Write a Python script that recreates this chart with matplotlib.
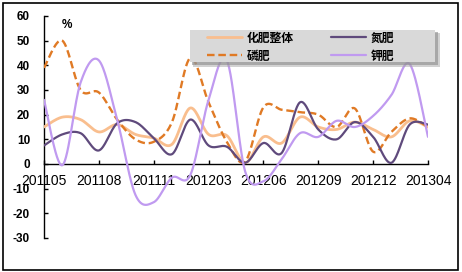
import numpy as np
import matplotlib
matplotlib.use("Agg")
import matplotlib.pyplot as plt
from matplotlib.patches import Rectangle

plt.rcParams['font.family'] = ['Liberation Sans', 'Noto Sans CJK SC', 'DejaVu Sans']

months = ["201105", "201106", "201107", "201108", "201109", "201110", "201111",
          "201112", "201202", "201203", "201204", "201205", "201206", "201207",
          "201208", "201209", "201210", "201211", "201212", "201302", "201303",
          "201304"]

overall = [15, 19, 18, 13, 16, 12, 10.5, 8, 22.7, 12, 11.5, 0.5, 11, 8.5,
           19, 15, 14, 17, 14, 11, 17.5, 15]
phosphate = [39, 50, 30, 29, 18, 10, 9, 17, 43, 25, 9, 1, 23, 22,
             21, 20, 15, 22.5, 5, 13, 18.5, 15]
nitrogen = [7.5, 12, 12.5, 5.5, 16.5, 17, 10.5, 4, 18, 7.5, 7, 0.5, 8.5, 4.5,
            25, 14, 10, 17, 11, 0.5, 16, 16]
potash = [26, -0.5, 33, 42, 18, -12.5, -15.5, -5.5, -4.5, 26, 42, -3, -7, 2,
          12.5, 11, 17.5, 15, 19.5, 28, 40.5, 11]

series_names = ["化肥整体", "磷肥", "氮肥", "钾肥"]
tick_step = 3
yticks = list(range(-30, 61, 10))

W, H = 462, 272


def smooth(y, n=30):
    y = np.asarray(y, dtype=float)
    x = np.arange(len(y), dtype=float)
    xs, ys = [], []
    for i in range(len(y) - 1):
        p0 = (x[i - 1], y[i - 1]) if i > 0 else (x[i], y[i])
        p1 = (x[i], y[i])
        p2 = (x[i + 1], y[i + 1])
        p3 = (x[i + 2], y[i + 2]) if i + 2 < len(y) else (x[i + 1], y[i + 1])
        c1 = (p1[0] + (p2[0] - p0[0]) / 6, p1[1] + (p2[1] - p0[1]) / 6)
        c2 = (p2[0] - (p3[0] - p1[0]) / 6, p2[1] - (p3[1] - p1[1]) / 6)
        t = np.linspace(0, 1, n, endpoint=(i == len(y) - 2))
        b0 = (1 - t) ** 3
        b1 = 3 * (1 - t) ** 2 * t
        b2 = 3 * (1 - t) * t ** 2
        b3 = t ** 3
        xs.append(b0 * p1[0] + b1 * c1[0] + b2 * c2[0] + b3 * p2[0])
        ys.append(b0 * p1[1] + b1 * c1[1] + b2 * c2[1] + b3 * p2[1])
    return np.concatenate(xs), np.concatenate(ys)


def px_rect(x0, y0, x1, y1, **kw):
    return Rectangle((x0 / W, 1 - y1 / H), (x1 - x0) / W, (y1 - y0) / H,
                     transform=fig.transFigure, **kw)


fig = plt.figure(figsize=(W / 100, H / 100), dpi=100)
fig.patches.append(px_rect(3, 3, 458, 270, fill=False, edgecolor='black',
                           linewidth=1.2))
ax = fig.add_axes([44 / W, 1 - 238 / H, 384 / W, 222 / H])

styles = [
    dict(color='#F9BE8E', lw=2.0, ls='-'),
    dict(color='#E07A25', lw=1.7, ls=(0, (3.2, 1.6))),
    dict(color='#5F4A7C', lw=1.6, ls='-'),
    dict(color='#C09AF0', lw=1.6, ls='-'),
]
lines = []
for data, name, st in zip([overall, phosphate, nitrogen, potash], series_names, styles):
    sx, sy = smooth(data)
    ln, = ax.plot(sx, sy, label=name, color=st['color'], lw=st['lw'],
                  linestyle=st['ls'], solid_capstyle='round', zorder=3)
    lines.append(ln)

ax.set_xlim(0, len(months) - 1)
ax.set_ylim(-30, 60)
ax.set_yticks(yticks)
ax.set_yticklabels([str(v) for v in yticks], fontsize=8.5, fontweight='bold')
ax.set_xticks(range(0, len(months), tick_step))
ax.set_xticklabels(months[::tick_step], fontsize=8.5, fontweight='bold')

for s in ['top', 'right']:
    ax.spines[s].set_visible(False)
ax.spines['bottom'].set_position(('data', 0))
ax.spines['left'].set_bounds(-30, 60)
for s in ['bottom', 'left']:
    ax.spines[s].set_linewidth(1.0)
ax.tick_params(axis='y', direction='in', length=3, width=1, pad=10)
ax.tick_params(axis='x', direction='in', length=3, width=1, pad=7)
ax.patch.set_alpha(0)

ax.text(0.045, 0.985, '%', transform=ax.transAxes, fontsize=8.5,
        fontweight='bold', ha='left', va='top')

# legend box with shadow (drawn above the lines)
sh1 = px_rect(193, 33, 440, 67, facecolor='#a6a6a6', edgecolor='none',
              alpha=0.5, zorder=6)
sh2 = px_rect(192, 32, 438, 65, facecolor='#8c8c8c', edgecolor='none',
              alpha=0.6, zorder=6)
box = px_rect(190, 30, 435, 62, facecolor='#D9D9D9', edgecolor='none', zorder=7)
for p in (sh1, sh2, box):
    fig.artists.append(p)

leg = fig.legend(handles=lines, ncol=2, loc='upper left',
                 bbox_to_anchor=(207 / W, 1 - 31.5 / H), bbox_transform=fig.transFigure,
                 frameon=False,
                 prop={'family': ['Noto Sans CJK SC'], 'weight': 'bold', 'size': 8.5},
                 handlelength=2.95, columnspacing=3.2, handletextpad=0.4,
                 labelspacing=0.42, borderpad=0, borderaxespad=0)
leg.set_zorder(8)

fig.savefig('out.png', dpi=100)
